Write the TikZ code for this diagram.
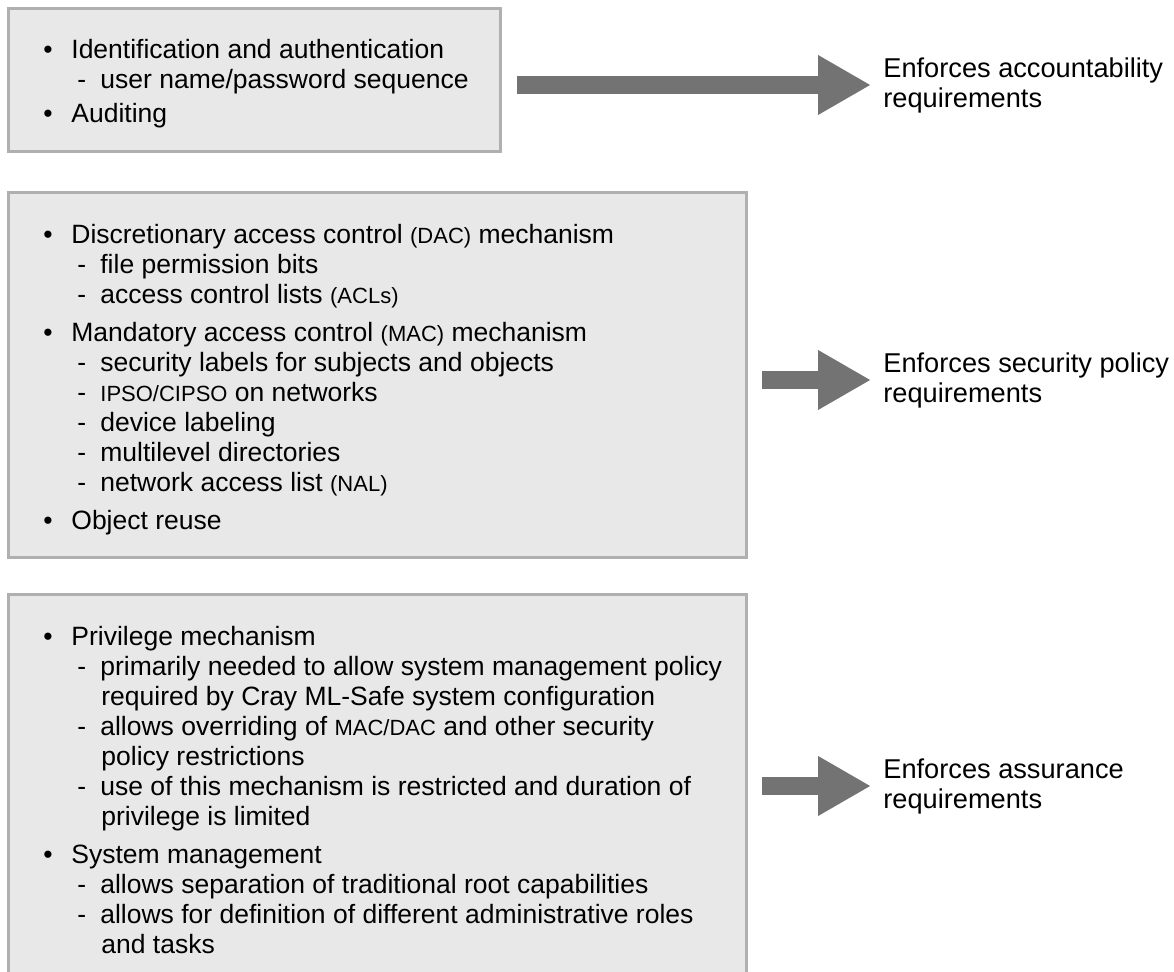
\documentclass[tikz,border=0pt]{standalone}
\usepackage{fontspec}
\setmainfont{Liberation Sans}
\usetikzlibrary{positioning,arrows.meta}

\definecolor{panelfill}{HTML}{E8E8E8}
\definecolor{panelline}{HTML}{B0B0B0}
\definecolor{arrowgray}{HTML}{737373}

\newcommand{\bul}[1]{\makebox[14pt][l]{\textbullet}#1}
\newcommand{\subline}[1]{\hspace*{17pt}\makebox[11.5pt][l]{-}#1}
\newcommand{\contline}[1]{\hspace*{29pt}#1}
\newcommand{\acrn}[1]{{\fontsize{11}{15}\selectfont #1}}

\begin{document}
\begin{tikzpicture}[
    x=0.5pt, y=-0.5pt,
    every node/.style={font=\fontsize{13.25}{15}\selectfont},
    panel/.style={draw=panelline, line width=1.5pt, fill=panelfill, outer sep=0pt, inner sep=0pt, anchor=north west},
    listtext/.style={align=left, inner sep=0pt},
    goal/.style={align=left, inner sep=0pt, anchor=west, font=\fontsize{13.6}{15}\selectfont},
    fatarr/.style={draw=arrowgray, line width=9pt, -{Triangle[length=26.5pt, width=28pt]}, shorten <=8pt, shorten >=6pt}
  ]
    \useasboundingbox (0,0) rectangle (1174,972);
    \clip (0,0) rectangle (1174,972);

    % The three mechanism panels
    \node[panel, minimum width=246pt, minimum height=71.5pt] (acct) at (8.5,8.5) {};
    \node[panel, minimum width=368.75pt, minimum height=182.5pt] (policy) at (8.5,193) {};
    \node[panel, minimum width=368.75pt, minimum height=200pt] (assur) at (8.5,594.5) {};

    % Panel contents
    \node[listtext, below right=15pt and 17.25pt of acct.north west] (accttxt) {%
      \bul{Identification and authentication}\\
      \subline{user name/password sequence}\\[2pt]
      \bul{Auditing}};

    \node[listtext, below right=15.5pt and 17.25pt of policy.north west] (policytxt) {%
      \bul{Discretionary access control \acrn{(DAC)} mechanism}\\
      \subline{file permission bits}\\
      \subline{access control lists \acrn{(ACLs)}}\\[4pt]
      \bul{Mandatory access control \acrn{(MAC)} mechanism}\\
      \subline{security labels for subjects and objects}\\
      \subline{\acrn{IPSO/CIPSO} on networks}\\
      \subline{device labeling}\\
      \subline{multilevel directories}\\
      \subline{network access list \acrn{(NAL)}}\\[4pt]
      \bul{Object reuse}};

    \node[listtext, below right=15.5pt and 17.25pt of assur.north west] (assurtxt) {%
      \bul{Privilege mechanism}\\
      \subline{primarily needed to allow system management policy}\\
      \contline{required by Cray ML-Safe system configuration}\\
      \subline{allows overriding of \acrn{MAC/DAC} and other security}\\
      \contline{policy restrictions}\\
      \subline{use of this mechanism is restricted and duration of}\\
      \contline{privilege is limited}\\[4pt]
      \bul{System management}\\
      \subline{allows separation of traditional root capabilities}\\
      \subline{allows for definition of different administrative roles}\\
      \contline{and tasks}};

    % Requirements on the right
    \node[goal] (accreq) at (883,85) {Enforces accountability\\requirements};
    \node[goal] (polreq) at (883,380) {Enforces security policy\\requirements};
    \node[goal] (assreq) at (883,786) {Enforces assurance\\requirements};

    % Fat arrows
    \draw[fatarr] (acct.east |- accreq.west) -- (accreq.west);
    \draw[fatarr] (policy.east |- polreq.west) -- (polreq.west);
    \draw[fatarr] (assur.east |- assreq.west) -- (assreq.west);

  \end{tikzpicture}
\end{document}
